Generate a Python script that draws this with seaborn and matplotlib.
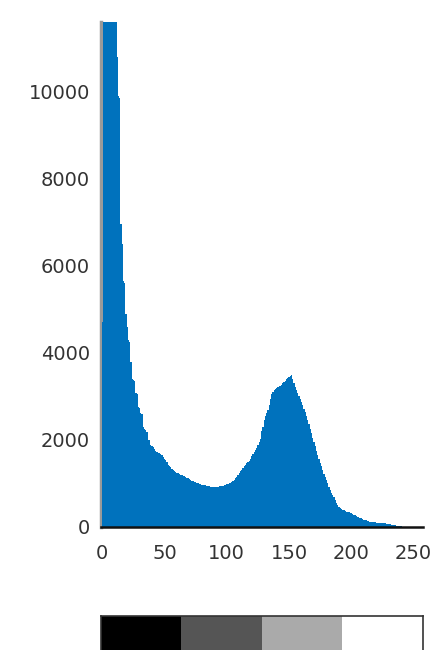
import numpy as np
import pandas as pd
import matplotlib
matplotlib.use("Agg")
import matplotlib.pyplot as plt
import seaborn as sns

# Intensity histogram of an 8-bit grayscale image (256 bins)
intensity = list(range(256))
counts = [
    4700, 15000, 14500, 14000, 13600, 13200, 12900, 12600, 12400, 12200,   # 0-9
    12000, 11900, 10800, 9900, 9850, 6950, 6500, 5650, 5600, 4900,         # 10-19
    4600, 4300, 4250, 3780, 3400, 3380, 3350, 3080, 3060, 2760,            # 20-29
    2740, 2620, 2600, 2300, 2250, 2220, 2180, 2000, 1990, 1880,            # 30-39
    1850, 1830, 1800, 1750, 1720, 1700, 1690, 1680, 1650, 1600,            # 40-49
    1560, 1540, 1500, 1420, 1390, 1370, 1340, 1300, 1280, 1270,            # 50-59
    1250, 1230, 1210, 1200, 1190, 1180, 1170, 1150, 1130, 1120,            # 60-69
    1100, 1080, 1060, 1050, 1040, 1030, 1010, 1000, 990, 980,              # 70-79
    970, 965, 960, 955, 950, 945, 940, 930, 925, 920,                      # 80-89
    915, 920, 925, 930, 935, 940, 945, 950, 960, 970,                      # 90-99
    980, 990, 1000, 1010, 1030, 1060, 1090, 1120, 1150, 1200,              # 100-109
    1240, 1280, 1310, 1350, 1400, 1430, 1460, 1490, 1520, 1560,            # 110-119
    1620, 1680, 1730, 1770, 1810, 1880, 1950, 2010, 2200, 2300,            # 120-129
    2450, 2550, 2620, 2690, 2800, 2950, 3050, 3100, 3140, 3170,            # 130-139
    3200, 3220, 3240, 3250, 3270, 3300, 3330, 3360, 3400, 3430,            # 140-149
    3450, 3470, 3500, 3400, 3300, 3220, 3150, 3080, 3010, 2950,            # 150-159
    2880, 2800, 2720, 2650, 2560, 2460, 2360, 2260, 2150, 2050,            # 160-169
    1950, 1850, 1750, 1660, 1570, 1480, 1400, 1310, 1220, 1140,            # 170-179
    1080, 1000, 930, 860, 790, 740, 680, 620, 560, 510,                    # 180-189
    470, 440, 420, 400, 385, 370, 355, 345, 335, 325,                      # 190-199
    315, 300, 285, 270, 255, 240, 225, 210, 200, 185,                      # 200-209
    170, 160, 150, 140, 130, 120, 115, 110, 108, 105,                      # 210-219
    102, 100, 98, 96, 94, 92, 88, 82, 76, 70,                              # 220-229
    64, 58, 52, 46, 40, 35, 30, 27, 25, 23,                                # 230-239
    15, 10, 8, 6, 5, 4, 3, 3, 2, 2,                                        # 240-249
    2, 1, 1, 1, 1, 2,                                                      # 250-255
]
xtick_values = [0, 50, 100, 150, 200, 250]
ytick_values = [0, 2000, 4000, 6000, 8000, 10000]
gray_levels = [0, 1, 2, 3]

sns.set_theme(style="white")
plt.rcParams["font.family"] = ["DejaVu Sans"]

W, H = 435, 650
fig = plt.figure(figsize=(W / 100, H / 100), dpi=100)
fig.patch.set_facecolor("white")

# Histogram axes
ax = fig.add_axes([101 / W, (H - 527) / H, 322 / W, 505 / H])
df = pd.DataFrame({"intensity": intensity, "count": counts})
sns.histplot(data=df, x="intensity", weights="count", bins=256,
             binrange=(-0.5, 255.5), color="#0072BD", alpha=1,
             linewidth=0, ax=ax)
ax.set_xlim(-1, 257.5)
ax.set_ylim(0, 11600)
ax.set_xlabel("")
ax.set_ylabel("")
ax.set_xticks(xtick_values)
ax.set_xticklabels([str(v) for v in xtick_values])
ax.set_yticks(ytick_values)
ax.set_yticklabels([str(v) for v in ytick_values])
ax.tick_params(axis="both", direction="in", length=3, width=1,
               color="#262626", labelcolor="#333333", labelsize=14)
ax.tick_params(axis="y", pad=8)
ax.tick_params(axis="x", pad=12)
ax.spines["top"].set_visible(False)
ax.spines["right"].set_visible(False)
ax.spines["left"].set_color("#9a9a9a")
ax.spines["left"].set_linewidth(2.5)
ax.spines["left"].set_zorder(0.5)
ax.spines["bottom"].set_color("#111111")
ax.spines["bottom"].set_linewidth(1.8)
ax.set_facecolor("white")

# Gray-level strip below the histogram
cax = fig.add_axes([101 / W, -0.03, 322 / W, (H - 616) / H + 0.03])
sns.heatmap(np.array([gray_levels]), cmap="gray", vmin=0, vmax=3,
            cbar=False, xticklabels=False, yticklabels=False, ax=cax)
for side, sp in cax.spines.items():
    sp.set_visible(True)
    sp.set_color("#333333")
    sp.set_linewidth(1.2)

fig.savefig("out.png", dpi=100)
